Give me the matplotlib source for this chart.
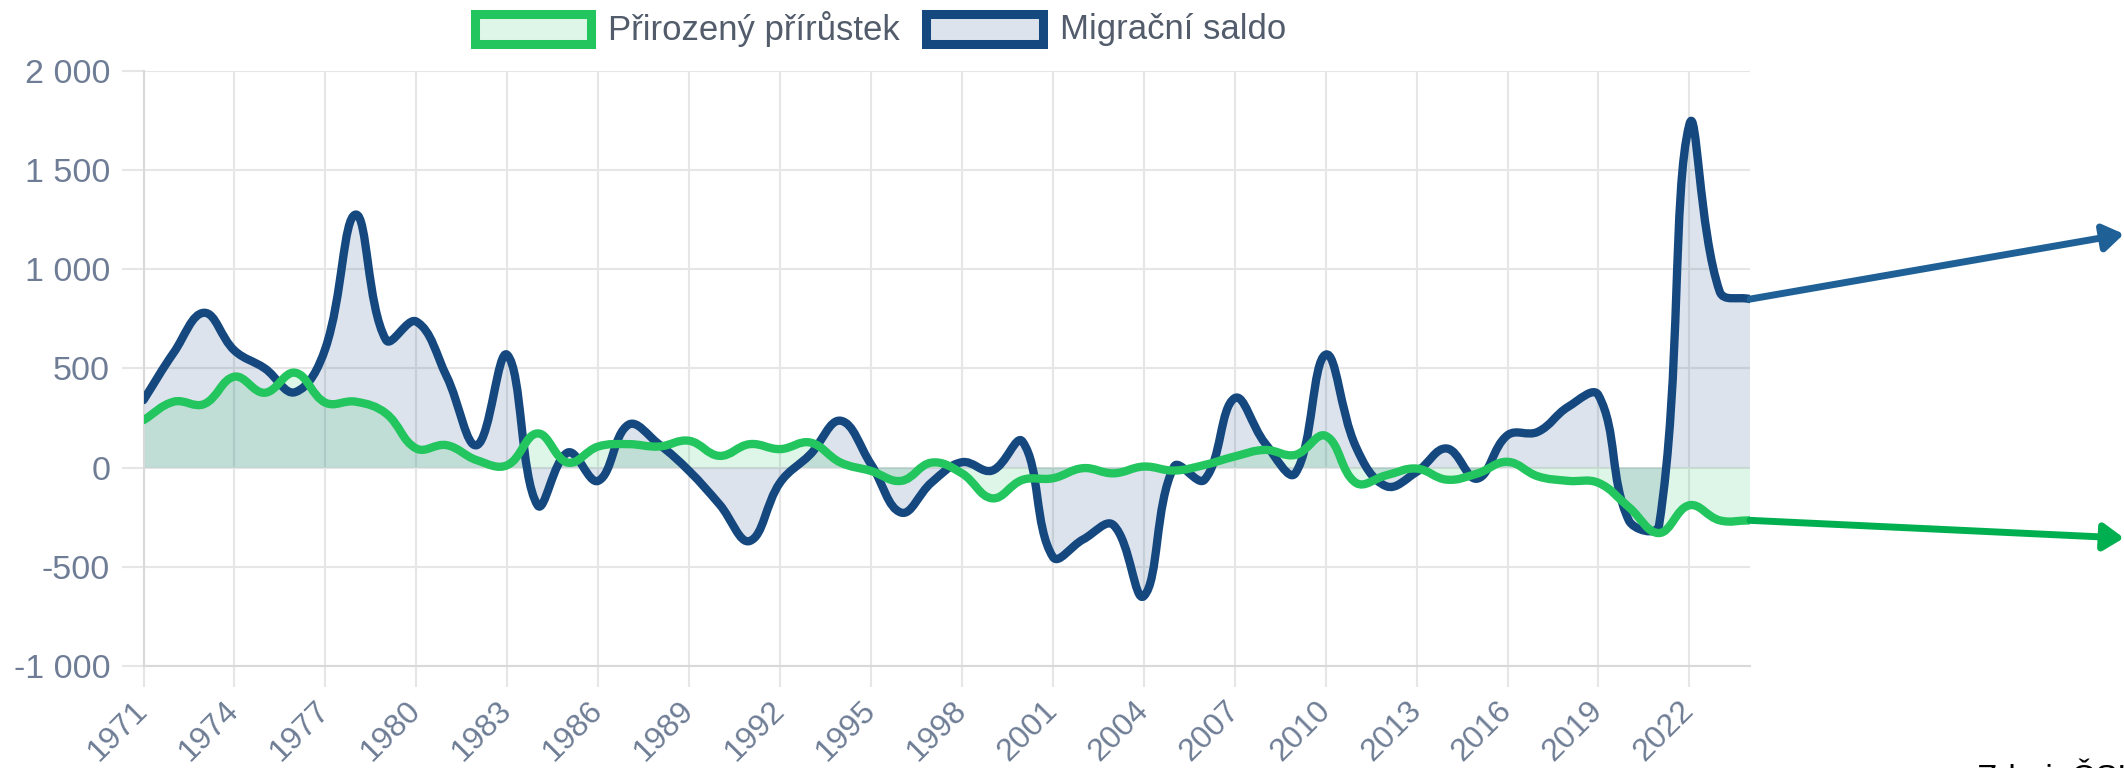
import matplotlib
matplotlib.use("Agg")
import matplotlib.pyplot as plt
import numpy as np
from matplotlib.path import Path
from matplotlib.patches import PathPatch, Rectangle

# --- Data ---
years = list(range(1971, 2025))

prirozeny = [239, 332, 320, 458, 377, 478, 327, 332, 273, 96,
             113, 37, 12, 172, 25, 106, 118, 106, 135, 59,
             118, 93, 126, 25, -17, -67, 25, -29, -155, -62,
             -54, -3, -29, 5, -15, 13, 56, 89, 64, 160,
             -77, -39, -5, -61, -30, 29, -44, -67, -77, -199,
             -330, -190, -266, -266]

migracni = [340, 580, 780, 590, 500, 380, 600, 1275, 643, 736,
            460, 113, 568, -190, 76, -67, 216, 118, -17, -185,
            -370, -76, 67, 236, 17, -227, -75, 27, -15, 131,
            -450, -362, -290, -648, 5, -62, 350, 123, -29, 569,
            104, -94, -22, 96, -56, 163, 180, 306, 365, -266,
            -291, 1729, 887, 849]

series_labels = ["Přirozený přírůstek", "Migrační saldo"]
tick_years = list(range(1971, 2023, 3))
y_ticks = [-1000, -500, 0, 500, 1000, 1500, 2000]
y_tick_labels = ["-1 000", "-500", "0", "500", "1 000", "1 500", "2 000"]
source_text = "Zdroj: ČSÚ"

# --- Colours ---
GREEN = "#22c55e"
NAVY = "#15487f"
GRID = "#e6e6e6"
TICK_TXT = "#6e7d95"
LEGEND_TXT = "#525c6b"

plt.rcParams.update({
    "font.family": ["Liberation Sans", "DejaVu Sans"],
    "font.size": 24,
})

W, H = 2124, 768


def spline_path(ax, x, y, tension=0.4):
    # Chart.js-like cubic spline, control points computed in pixel space
    pts = ax.transData.transform(np.column_stack([x, y]))
    n = len(pts)
    cp_prev = np.zeros_like(pts)
    cp_next = np.zeros_like(pts)
    for i in range(n):
        prev = pts[max(i - 1, 0)]
        cur = pts[i]
        nxt = pts[min(i + 1, n - 1)]
        d01 = np.hypot(*(cur - prev))
        d12 = np.hypot(*(nxt - cur))
        tot = d01 + d12
        s01 = d01 / tot if tot else 0
        s12 = d12 / tot if tot else 0
        cp_prev[i] = cur - tension * s01 * (nxt - prev)
        cp_next[i] = cur + tension * s12 * (nxt - prev)
    verts = [pts[0]]
    codes = [Path.MOVETO]
    for i in range(n - 1):
        verts += [cp_next[i], cp_prev[i + 1], pts[i + 1]]
        codes += [Path.CURVE4] * 3
    verts = ax.transData.inverted().transform(np.array(verts))
    return verts, codes


def draw_series(ax, x, y, color, fill_rgba):
    verts, codes = spline_path(ax, x, y)
    # fill to origin
    fverts = list(verts) + [(x[-1], 0), (x[0], 0), (x[0], y[0])]
    fcodes = list(codes) + [Path.LINETO, Path.LINETO, Path.CLOSEPOLY]
    ax.add_patch(PathPatch(Path(fverts, fcodes), facecolor=fill_rgba,
                           edgecolor="none", zorder=2))
    ax.add_patch(PathPatch(Path(verts, codes), facecolor="none",
                           edgecolor=color, lw=6, capstyle="round",
                           joinstyle="round", zorder=3))


fig = plt.figure(figsize=(W / 100, H / 100), dpi=100)
ax = fig.add_axes([143.5 / W, 1 - 666 / H, (1750 - 143.5) / W, (666 - 70.7) / H])
ax.set_xlim(1971, 2024)
ax.set_ylim(-1000, 2000)

# --- Grid & axes ---
ax.set_xticks(tick_years)
ax.set_xticklabels([str(t) for t in tick_years], rotation=45, ha="right",
                   va="center", rotation_mode="anchor", color=TICK_TXT,
                   fontsize=23)
ax.set_yticks(y_ticks)
ax.set_yticklabels(y_tick_labels, color=TICK_TXT, fontsize=24.5)
ax.grid(True, color=GRID, lw=1.5)
ax.set_axisbelow(True)
ax.tick_params(axis="both", color=GRID, width=1.5)
ax.tick_params(axis="y", length=16, pad=8)
ax.tick_params(axis="x", length=15, pad=14)
for side in ["top", "right"]:
    ax.spines[side].set_visible(False)
for side in ["left", "bottom"]:
    ax.spines[side].set_color("#d9d9d9")
    ax.spines[side].set_linewidth(1.5)

# --- Series (navy drawn first, green on top as in Chart.js) ---
draw_series(ax, years, migracni, NAVY, (0.08, 0.28, 0.50, 0.15))
draw_series(ax, years, prirozeny, GREEN, (0.13, 0.77, 0.37, 0.15))

# --- Legend (drawn by hand like the Chart.js legend) ---
legend_items = [(series_labels[0], GREEN, (0.13, 0.77, 0.37, 0.15), 474.5, 608),
                (series_labels[1], NAVY, (0.08, 0.28, 0.50, 0.15), 926.5, 1060)]
for text, col, fc, bx, tx in legend_items:
    fig.add_artist(Rectangle((bx / W, 1 - 44 / H), 116 / W, 30 / H,
                             transform=fig.transFigure, facecolor="white",
                             edgecolor="none"))
    fig.add_artist(Rectangle((bx / W, 1 - 44 / H), 116 / W, 30 / H,
                             transform=fig.transFigure, facecolor=fc,
                             edgecolor=col, lw=6.5))
    fig.text(tx / W, 1 - 29 / H, text, fontsize=25, color=LEGEND_TXT,
             va="center", ha="left")

# --- Arrows from the last values to the right edge ---
arrow_style = "-|>,head_length=0.6,head_width=0.4"
ax.annotate("", xy=(1.0, 1 - 234 / H), xycoords="figure fraction",
            xytext=(years[-1], migracni[-1]), textcoords="data",
            arrowprops=dict(arrowstyle=arrow_style, mutation_scale=20,
                            lw=5, color="#1f6196", shrinkA=0, shrinkB=0),
            annotation_clip=False)
ax.annotate("", xy=(1.0, 1 - 538 / H), xycoords="figure fraction",
            xytext=(years[-1], prirozeny[-1]), textcoords="data",
            arrowprops=dict(arrowstyle=arrow_style, mutation_scale=20,
                            lw=5, color="#00b050", shrinkA=0, shrinkB=0),
            annotation_clip=False)

# source note, cut off at the bottom edge as in the reference
fig.text(1977 / W, (768 - 788) / H, source_text, fontsize=24, color="black",
         va="baseline", ha="left")

fig.savefig("out.png", dpi=100)
